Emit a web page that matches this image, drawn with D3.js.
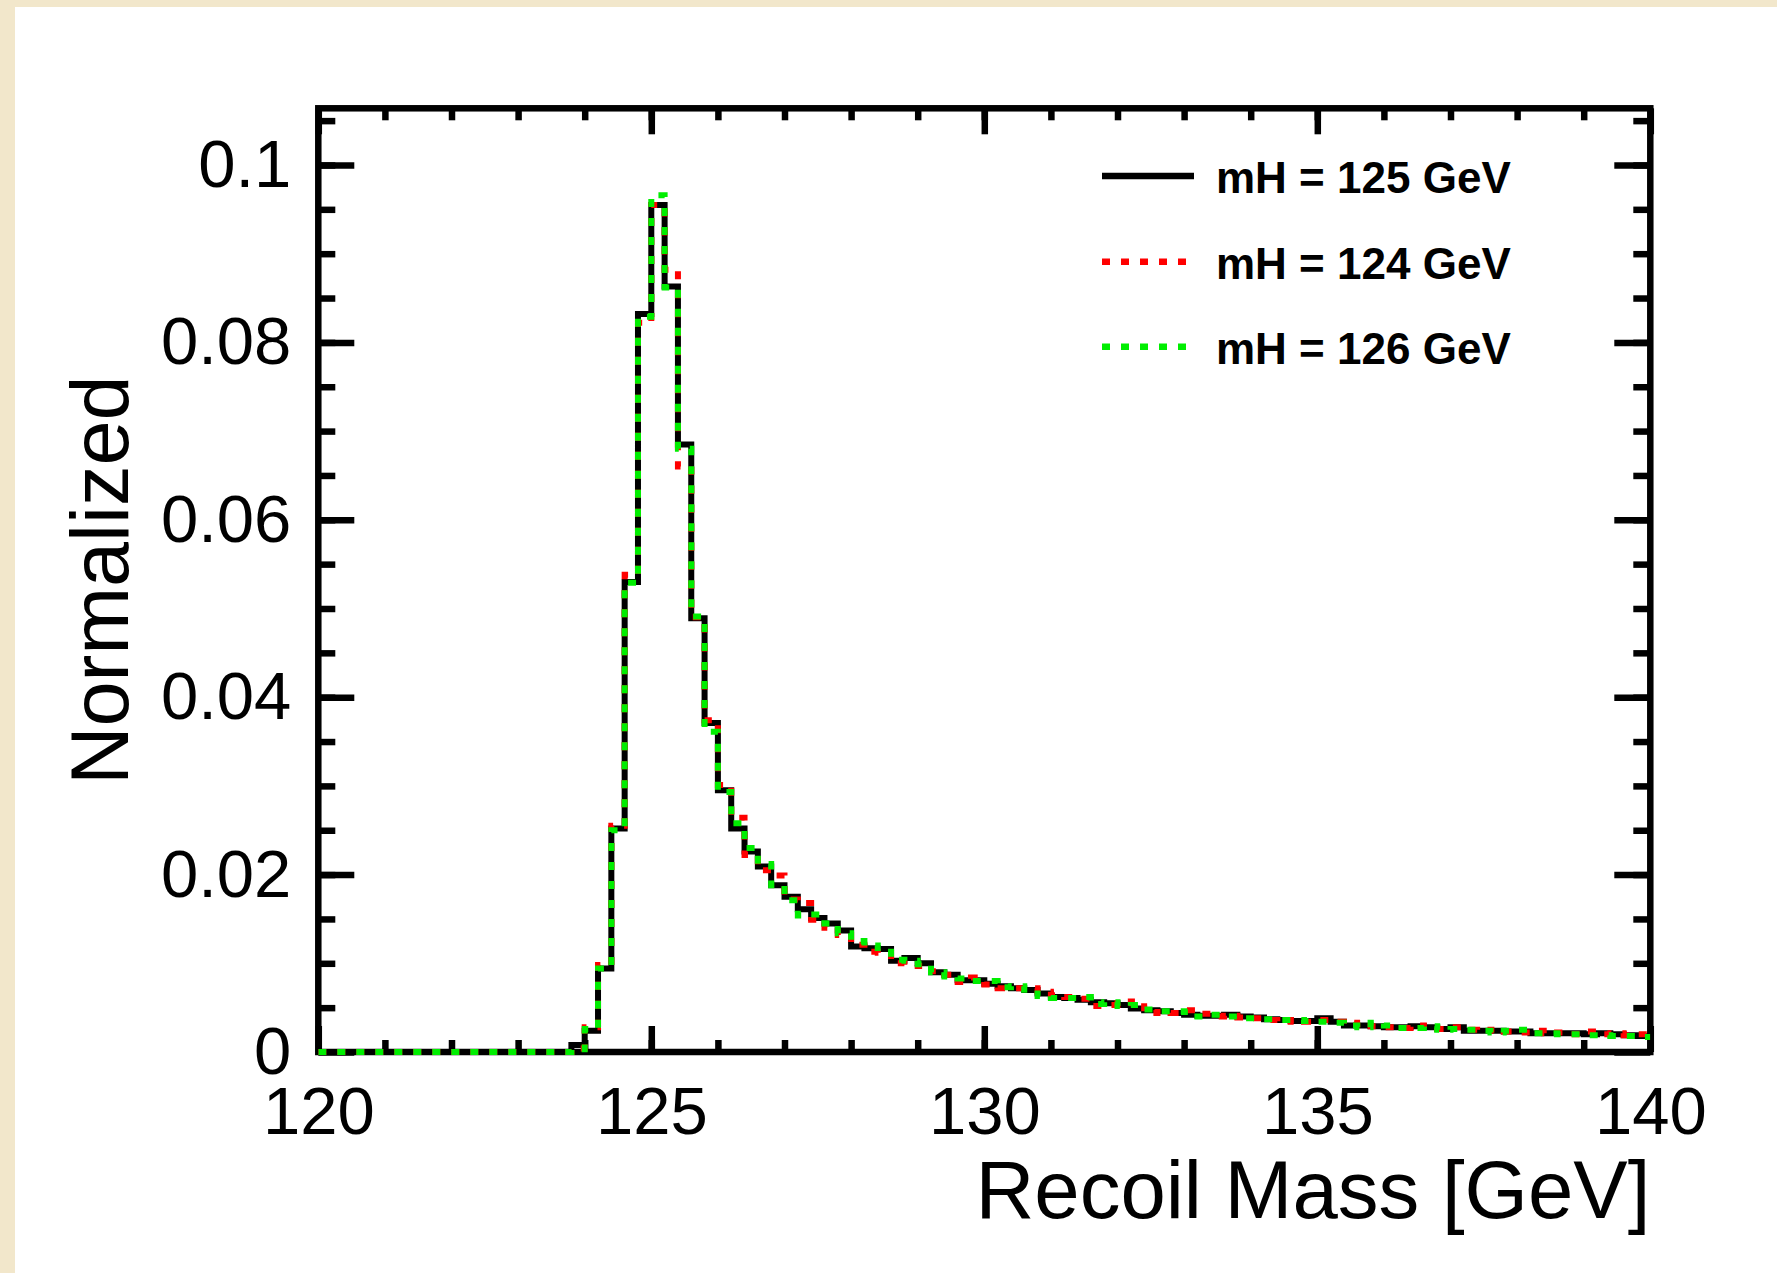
<!DOCTYPE html>
<html><head><meta charset="utf-8">
<script src="https://cdn.jsdelivr.net/npm/d3@7"></script>
<style>html,body{margin:0;padding:0;background:#f2e7cb;} svg{display:block}</style>
</head><body><svg id="c" width="1777" height="1273"></svg>
<script>
// Bin lower edges (GeV), 0.2 GeV bins from 120 to 140
const binLow = d3.range(100).map(i => +(120 + 0.2 * i).toFixed(1));
const binHigh = 140;

const mh125 = [
  0,0,0,0,0,0,0,0,0,0,
  0,0,0,0,0,0,0,0,0,0.0008,
  0.0024,0.0094,0.0252,0.0530,0.0832,0.0955,0.0863,0.0685,0.0489,0.0371,
  0.0295,0.0252,0.0226,0.0209,0.0188,0.0175,0.0161,0.0151,0.0145,0.0137,
  0.0119,0.0117,0.0116,0.0103,0.0106,0.0100,0.0090,0.0087,0.0081,0.0081,
  0.0077,0.0074,0.0072,0.0070,0.0066,0.0062,0.0061,0.0059,0.0056,0.0055,
  0.0053,0.0049,0.0047,0.0046,0.0044,0.0042,0.0041,0.0041,0.0042,0.0040,
  0.0039,0.0037,0.0036,0.0035,0.0035,0.0038,0.0034,0.0030,0.0030,0.0029,
  0.0028,0.0028,0.0029,0.0028,0.0026,0.0028,0.0024,0.0024,0.0024,0.0023,
  0.0023,0.0021,0.0021,0.0021,0.0021,0.0020,0.0021,0.0020,0.0019,0.0018
];
const mh124 = [
  0,0,0,0,0,0,0,0,0,0,
  0,0,0,0,0,0,0,0,0,0.0004,
  0.0028,0.0098,0.0255,0.0538,0.0822,0.0955,0.0882,0.0660,0.0490,0.0374,
  0.0301,0.0264,0.0222,0.0205,0.0199,0.0172,0.0168,0.0149,0.0140,0.0132,
  0.0121,0.0113,0.0112,0.0100,0.0098,0.0097,0.0091,0.0087,0.0079,0.0084,
  0.0076,0.0072,0.0072,0.0072,0.0068,0.0064,0.0062,0.0060,0.0052,0.0053,
  0.0055,0.0057,0.0044,0.0045,0.0044,0.0047,0.0043,0.0040,0.0041,0.0039,
  0.0038,0.0036,0.0034,0.0036,0.0034,0.0036,0.0034,0.0031,0.0033,0.0029,
  0.0028,0.0027,0.0030,0.0027,0.0026,0.0028,0.0025,0.0024,0.0025,0.0023,
  0.0022,0.0024,0.0021,0.0022,0.0020,0.0023,0.0020,0.0021,0.0019,0.0020
];
const mh126 = [
  0,0,0,0,0,0,0,0,0,0,
  0,0,0,0,0,0,0,0,0,0.0003,
  0.0026,0.0094,0.0250,0.0529,0.0829,0.0966,0.0862,0.0680,0.0491,0.0361,
  0.0293,0.0258,0.0230,0.0212,0.0188,0.0171,0.0154,0.0155,0.0145,0.0134,
  0.0125,0.0120,0.0113,0.0104,0.0103,0.0099,0.0090,0.0085,0.0083,0.0080,
  0.0080,0.0073,0.0074,0.0066,0.0063,0.0061,0.0061,0.0062,0.0054,0.0056,
  0.0052,0.0053,0.0048,0.0046,0.0046,0.0045,0.0040,0.0042,0.0040,0.0038,
  0.0038,0.0037,0.0036,0.0036,0.0035,0.0034,0.0033,0.0030,0.0028,0.0033,
  0.0030,0.0027,0.0027,0.0029,0.0025,0.0026,0.0025,0.0024,0.0022,0.0024,
  0.0025,0.0021,0.0021,0.0020,0.0020,0.0019,0.0019,0.0018,0.0018,0.0017
];

const seriesNames = ["mH = 125 GeV", "mH = 124 GeV", "mH = 126 GeV"];
const seriesColors = ["#000000", "#ff0000", "#00ee00"];
const seriesDash = [null, "8 11", "8 11"];

const xMajorTicks = [120, 125, 130, 135, 140];
const xMinorTicks = d3.range(121, 140, 1);
const yMajorTicks = [0, 0.02, 0.04, 0.06, 0.08, 0.1];
const yTickLabels = ["0", "0.02", "0.04", "0.06", "0.08", "0.1"];
const yMinorTicks = d3.range(0, 21).map(i => +(0.005 * i + 0.005).toFixed(3));

const xTitle = "Recoil Mass [GeV]";
const yTitle = "Normalized";

// ---- layout ----
const svg = d3.select("#c");
const FONT = "'Liberation Sans', Arial, Helvetica, sans-serif";
const L = 318.3, R = 1650.3, T = 108.3, B = 1052;
const x = d3.scaleLinear().domain([120, 140]).range([L, R]);
const y = d3.scaleLinear().domain([0, 0.10639]).range([B, T]);

svg.append("rect").attr("x", 0).attr("y", 0).attr("width", 1777).attr("height", 1273).attr("fill", "#f2e7cb");
svg.append("rect").attr("x", 15).attr("y", 7).attr("width", 1762).attr("height", 1266).attr("fill", "#ffffff");

// axes
function styleAxis(g) {
  g.select(".domain").remove();
  g.selectAll(".tick line").attr("stroke", "#000").attr("stroke-width", 6.5);
  g.selectAll(".tick text").attr("fill", "#000").attr("font-family", FONT).attr("font-size", 67);
}
// bottom
svg.append("g").attr("transform", `translate(0,${B})`)
  .call(d3.axisBottom(x).tickValues(xMajorTicks).tickSizeInner(-26).tickSizeOuter(0).tickPadding(34).tickFormat(d3.format("d")))
  .call(styleAxis);
svg.append("g").attr("transform", `translate(0,${B})`)
  .call(d3.axisBottom(x).tickValues(xMinorTicks).tickSizeInner(-12).tickSizeOuter(0).tickFormat(""))
  .call(styleAxis);
// top
svg.append("g").attr("transform", `translate(0,${T})`)
  .call(d3.axisTop(x).tickValues(xMajorTicks).tickSizeInner(-26).tickSizeOuter(0).tickFormat(""))
  .call(styleAxis);
svg.append("g").attr("transform", `translate(0,${T})`)
  .call(d3.axisTop(x).tickValues(xMinorTicks).tickSizeInner(-12).tickSizeOuter(0).tickFormat(""))
  .call(styleAxis);
// left
svg.append("g").attr("transform", `translate(${L},0)`)
  .call(d3.axisLeft(y).tickValues(yMajorTicks).tickSizeInner(-36).tickSizeOuter(0).tickPadding(27)
    .tickFormat((d, i) => yTickLabels[i]))
  .call(styleAxis);
svg.append("g").attr("transform", `translate(${L},0)`)
  .call(d3.axisLeft(y).tickValues(yMinorTicks).tickSizeInner(-17).tickSizeOuter(0).tickFormat(""))
  .call(styleAxis);
// right
svg.append("g").attr("transform", `translate(${R},0)`)
  .call(d3.axisRight(y).tickValues(yMajorTicks).tickSizeInner(-36).tickSizeOuter(0).tickFormat(""))
  .call(styleAxis);
svg.append("g").attr("transform", `translate(${R},0)`)
  .call(d3.axisRight(y).tickValues(yMinorTicks).tickSizeInner(-17).tickSizeOuter(0).tickFormat(""))
  .call(styleAxis);

// frame
svg.append("rect").attr("x", L).attr("y", T).attr("width", R - L).attr("height", B - T)
  .attr("fill", "none").attr("stroke", "#000").attr("stroke-width", 6.5);

// clip
svg.append("clipPath").attr("id", "clip").append("rect")
  .attr("x", L).attr("y", T).attr("width", R - L).attr("height", B - T + 3);

// histograms (drawn over the frame, as in the reference)
const line = d3.line().x(d => x(d[0])).y(d => y(d[1])).curve(d3.curveStepAfter);
const allSeries = [mh125, mh124, mh126];
const histG = svg.append("g").attr("clip-path", "url(#clip)");
allSeries.forEach((vals, s) => {
  const pts = binLow.map((lo, i) => [lo, vals[i]]);
  pts.push([binHigh, vals[vals.length - 1]]);
  const p = histG.append("path").attr("d", line(pts))
    .attr("fill", "none").attr("stroke", seriesColors[s])
    .attr("stroke-width", 6).attr("stroke-linejoin", "miter");
  if (seriesDash[s]) p.attr("stroke-dasharray", seriesDash[s]);
});

// titles
svg.append("text").attr("x", R).attr("y", 1218).attr("text-anchor", "end")
  .attr("font-family", FONT).attr("font-size", 81.5).attr("fill", "#000").text(xTitle);
svg.append("text").attr("transform", `translate(128,${(T + B) / 2}) rotate(-90)`)
  .attr("text-anchor", "middle").attr("font-family", FONT).attr("font-size", 81).attr("fill", "#000").text(yTitle);

// legend
const legRowY = [176, 261.7, 346.7];
const leg = svg.append("g");
seriesNames.forEach((name, s) => {
  const ln = leg.append("line").attr("x1", 1102).attr("x2", 1194)
    .attr("y1", legRowY[s]).attr("y2", legRowY[s])
    .attr("stroke", seriesColors[s]).attr("stroke-width", 6.5);
  if (seriesDash[s]) ln.attr("stroke-dasharray", seriesDash[s]);
  leg.append("text").attr("x", 1216).attr("y", legRowY[s] + 17)
    .attr("font-family", FONT).attr("font-size", 44).attr("font-weight", "bold")
    .attr("fill", "#000").text(name);
});
</script>
</body></html>
